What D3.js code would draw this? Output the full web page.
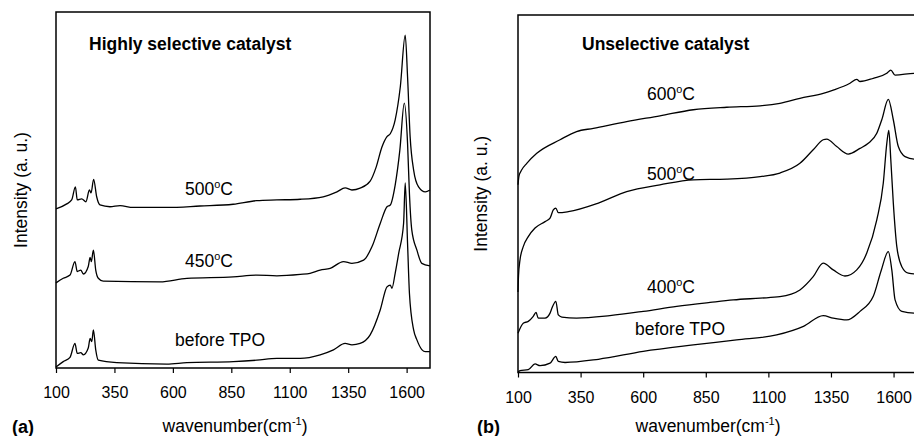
<!DOCTYPE html>
<html>
<head>
<meta charset="utf-8">
<script src="https://cdn.jsdelivr.net/npm/d3@7"></script>
<style>
  body { margin: 0; background: #fff; }
  text { font-family: "Liberation Sans", Arial, sans-serif; fill: #000; }
</style>
</head>
<body>
<div id="chart"></div>
<script>
var svgWidth = 914;
var svgHeight = 436;

// tick labels shared by both panels
var wnTicks = [100, 350, 600, 850, 1100, 1350, 1600];

// (a) Highly selective catalyst - wavenumber / intensity (a.u.)
var selWn500 = [100, 146, 167, 183, 191, 210, 228, 243, 250, 261, 274, 288, 331, 374, 430, 574, 716, 858, 959, 1045, 1145, 1243, 1302, 1337, 1366, 1401, 1444, 1470, 1494, 1516, 1530, 1551, 1573, 1594, 1604, 1615, 1630, 1651, 1680, 1700];
var selI500  = [44.7, 46.1, 47.2, 50.9, 47.2, 47.5, 46.7, 50.0, 49.2, 53.0, 48.1, 45.8, 45.3, 45.6, 45.1, 45.1, 45.5, 46.0, 47.0, 47.2, 47.4, 48.1, 49.5, 50.6, 50.0, 50.5, 52.5, 56.5, 62.0, 65.0, 65.8, 69.7, 79.0, 93.5, 81.8, 65.0, 55.6, 50.9, 49.5, 50.0];

var selWn450 = [100, 131, 160, 181, 191, 206, 217, 238, 246, 251, 260, 270, 281, 302, 545, 660, 858, 959, 1045, 1145, 1187, 1230, 1273, 1330, 1366, 1416, 1452, 1487, 1516, 1530, 1551, 1571, 1590, 1604, 1612, 1622, 1644, 1665, 1700];
var selI450  = [23.9, 25.2, 26.1, 29.9, 27.1, 27.5, 26.4, 28.5, 31.1, 29.9, 33.1, 27.5, 25.2, 24.4, 24.2, 25.2, 25.6, 26.1, 25.9, 26.3, 26.6, 27.5, 28.0, 29.9, 29.4, 30.3, 34.1, 40.6, 45.3, 45.8, 51.4, 61.2, 74.4, 63.1, 49.0, 38.8, 33.1, 29.4, 28.7];

var selWnPre = [100, 131, 160, 181, 191, 206, 217, 238, 246, 253, 260, 270, 281, 360, 574, 660, 859, 959, 1045, 1145, 1230, 1287, 1337, 1366, 1401, 1444, 1487, 1516, 1530, 1537, 1551, 1566, 1587, 1594, 1604, 1612, 1630, 1644, 1666, 1680, 1700];
var selIPre  = [0.3, 1.8, 3.0, 6.9, 4.1, 4.3, 3.7, 5.6, 8.3, 7.4, 10.7, 5.1, 2.2, 1.5, 1.1, 1.5, 1.8, 2.2, 2.7, 2.7, 3.7, 5.1, 6.9, 6.5, 6.9, 9.3, 16.3, 22.8, 23.3, 22.4, 26.6, 32.2, 40.6, 52.0, 35.0, 21.0, 10.7, 7.9, 5.1, 4.6, 4.6];

// (b) Unselective catalyst
var unsWn600 = [100, 104, 115, 135, 175, 268, 334, 401, 534, 667, 800, 934, 1067, 1146, 1226, 1319, 1359, 1426, 1453, 1466, 1519, 1573, 1589, 1606, 1684, 1700];
var unsI600  = [52.5, 55.0, 56.7, 58.5, 61.3, 65.1, 67.4, 68.3, 70.2, 71.8, 73.5, 74.2, 74.6, 75.3, 76.7, 78.1, 79.0, 80.9, 82.0, 81.4, 82.3, 83.7, 84.6, 83.2, 83.7, 83.7];

var unsWn500 = [100, 102, 108, 121, 141, 168, 208, 228, 241, 251, 261, 301, 421, 534, 667, 800, 934, 1067, 1146, 1226, 1279, 1319, 1333, 1373, 1419, 1466, 1499, 1533, 1553, 1579, 1599, 1619, 1646, 1684, 1700];
var unsI500  = [22.5, 27.0, 31.5, 35.2, 38.0, 40.4, 42.2, 43.2, 45.5, 46.0, 44.7, 45.0, 47.4, 50.6, 52.5, 53.9, 54.1, 54.8, 55.8, 58.5, 62.3, 65.1, 65.3, 63.2, 61.1, 62.7, 64.1, 66.9, 70.7, 76.4, 70.7, 63.2, 60.4, 59.7, 59.7];

var unsWn400 = [100, 121, 141, 161, 172, 181, 208, 228, 236, 251, 261, 275, 334, 467, 600, 734, 867, 960, 1067, 1146, 1226, 1279, 1319, 1359, 1406, 1453, 1493, 1533, 1559, 1573, 1581, 1589, 1599, 1613, 1633, 1659, 1684, 1700];
var unsI400  = [11.0, 13.8, 14.3, 15.7, 16.8, 15.2, 15.2, 16.6, 18.1, 19.9, 16.1, 15.5, 15.2, 15.9, 17.1, 18.5, 19.6, 20.3, 20.8, 21.2, 23.1, 26.8, 30.6, 28.7, 27.0, 28.7, 33.4, 42.7, 53.0, 64.1, 67.7, 59.5, 47.4, 35.2, 29.6, 27.8, 27.6, 27.6];

var unsWnPre = [100, 108, 141, 168, 188, 228, 251, 261, 288, 421, 600, 800, 973, 1133, 1240, 1319, 1359, 1413, 1466, 1519, 1550, 1579, 1593, 1606, 1633, 1684, 1700];
var unsIPre  = [0.0, 0.5, 0.8, 2.4, 1.9, 2.6, 4.5, 3.1, 2.8, 3.7, 5.9, 7.7, 9.1, 10.5, 12.9, 15.9, 15.2, 14.7, 17.1, 21.3, 28.4, 33.8, 28.7, 20.3, 17.1, 16.6, 16.6];

var svg = d3.select("#chart")
    .append("svg")
    .attr("width", svgWidth)
    .attr("height", svgHeight);

function superLabel(g, x, y, size, num) {
    var t = g.append("text")
        .attr("x", x)
        .attr("y", y)
        .style("font-size", size + "px");
    t.append("tspan").text(num);
    t.append("tspan").attr("dy", -7).style("font-size", (size * 0.62) + "px").text("o");
    t.append("tspan").attr("dy", 7).text("C");
}

// draws one panel; box = frame edges in px
function drawPanel(box, title, series, labels, tag, titleX, yLabelX, tagX, tickPad) {
    var x = d3.scaleLinear().domain([100, 1700]).range([box.left, box.right]);
    var y = d3.scaleLinear().domain([0, 100]).range([box.bottom, box.top]);

    var line = d3.line()
        .x(d => x(d[0]))
        .y(d => y(d[1]))
        .curve(d3.curveMonotoneX);

    series.forEach(function(s) {
        svg.append("path")
            .datum(d3.zip(s[0], s[1]))
            .attr("d", line)
            .attr("fill", "none")
            .attr("stroke", "#000")
            .attr("stroke-width", 1.3);
    });

    // frame
    svg.append("rect")
        .attr("x", box.left)
        .attr("y", box.top)
        .attr("width", box.right - box.left)
        .attr("height", box.bottom - box.top)
        .attr("fill", "none")
        .attr("stroke", "#000")
        .attr("stroke-width", 1.5);

    var bottomAxis = d3.axisBottom(x)
        .tickValues(wnTicks)
        .tickFormat(d3.format("d"))
        .tickSize(5)
        .tickSizeOuter(0)
        .tickPadding(tickPad);

    var ax = svg.append("g")
        .attr("transform", `translate(0, ${box.bottom})`)
        .call(bottomAxis);
    ax.select(".domain").remove();
    ax.selectAll("line").attr("stroke", "#000").attr("stroke-width", 1.2);
    ax.selectAll("text")
        .style("font-size", "16px")
        .style("font-family", "Liberation Sans, Arial, sans-serif")
        .attr("fill", "#000");

    svg.append("text")
        .attr("x", titleX)
        .attr("y", 50)
        .style("font-size", "17.5px")
        .style("font-weight", "bold")
        .text(title);

    labels.forEach(function(l) {
        if (l.deg) {
            superLabel(svg, l.x, l.y, 17.5, l.text);
        } else {
            svg.append("text")
                .attr("x", l.x)
                .attr("y", l.y)
                .style("font-size", "17.5px")
                .text(l.text);
        }
    });

    // axes labels
    svg.append("text")
        .attr("transform", `translate(${yLabelX}, ${(box.top + box.bottom) / 2}) rotate(-90)`)
        .attr("text-anchor", "middle")
        .style("font-size", "17.5px")
        .text("Intensity (a. u.)");

    var xt = svg.append("text")
        .attr("x", (box.left + Math.min(box.right, svgWidth)) / 2 - 8)
        .attr("y", 432)
        .attr("text-anchor", "middle")
        .style("font-size", "17.5px");
    xt.append("tspan").text("wavenumber(cm");
    xt.append("tspan").attr("dy", -7).style("font-size", "11px").text("-1");
    xt.append("tspan").attr("dy", 7).text(")");

    svg.append("text")
        .attr("x", tagX)
        .attr("y", 433)
        .style("font-size", "18px")
        .style("font-weight", "bold")
        .text(tag);
}

drawPanel({left: 56, right: 430, top: 12, bottom: 368},
    "Highly selective catalyst",
    [[selWn500, selI500], [selWn450, selI450], [selWnPre, selIPre]],
    [{x: 185, y: 195, text: "500", deg: true},
     {x: 185, y: 267, text: "450", deg: true},
     {x: 175, y: 346, text: "before TPO"}],
    "(a)", 89, 27, 12, 14);

drawPanel({left: 518, right: 918.6, top: 15, bottom: 372.5},
    "Unselective catalyst",
    [[unsWn600, unsI600], [unsWn500, unsI500], [unsWn400, unsI400], [unsWnPre, unsIPre]],
    [{x: 647, y: 100, text: "600", deg: true},
     {x: 647, y: 180, text: "500", deg: true},
     {x: 647, y: 293, text: "400", deg: true},
     {x: 635, y: 335, text: "before TPO"}],
    "(b)", 582, 487, 477, 14);
</script>
</body>
</html>
